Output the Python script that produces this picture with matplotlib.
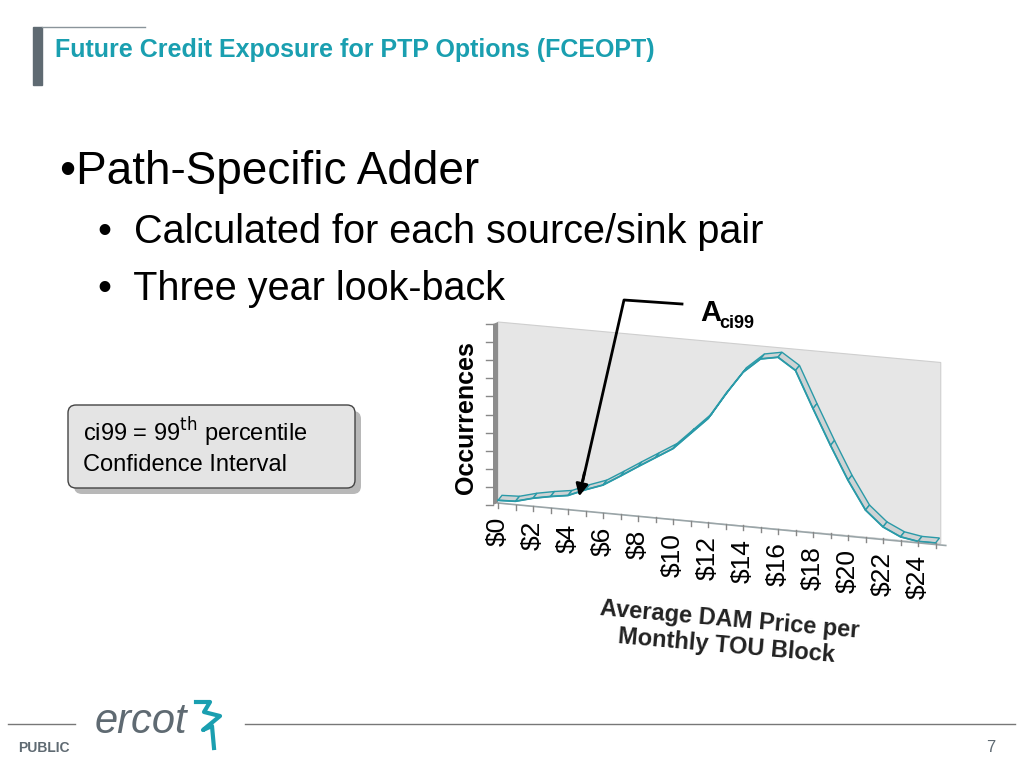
import numpy as np
import matplotlib.pyplot as plt
from matplotlib.patches import Polygon, FancyBboxPatch

# data: occurrences (relative units) per $1 price bin
prices = np.arange(0, 26)
occ = [8, 10, 24, 34, 42, 64, 83, 115, 148, 180, 212, 262, 312, 390, 461, 506,
       516, 481, 371, 265, 165, 80, 34, 9, 0, 0]
tick_labels = ["$%d" % p for p in range(0, 25, 2)]

TEAL = "#1a9fb0"
LINE = "#2a9aa8"

# chart geometry in figure pixels
X0, Y0 = 498, 503          # origin of back plane
DX, DY = 17.5, 1.6         # pixels per $ along the base
HSCALE = 181 / 545         # occurrences -> pixels
DEPTH = (4, -5)            # ribbon depth


def to_px(p, v):
    return X0 + p * DX, Y0 + p * DY - v * HSCALE


fig = plt.figure(figsize=(10.24, 7.68), dpi=100)
ax = fig.add_axes([0, 0, 1, 1])
ax.set_xlim(0, 1024)
ax.set_ylim(768, 0)
ax.axis("off")

# header
ax.add_patch(plt.Rectangle((33, 27), 9, 58, color="#5f6a72"))
ax.plot([42, 145], [27, 27], color="#8a949a", lw=1)
ax.text(55, 50, "Future Credit Exposure for PTP Options (FCEOPT)", color=TEAL,
        fontsize=18, fontweight="bold", family="Liberation Sans", va="center")

ax.text(60, 172, "\u2022Path-Specific Adder", fontsize=33, family="Liberation Sans", va="center")
ax.text(98, 232, "\u2022  Calculated for each source/sink pair", fontsize=28.5,
        family="Liberation Sans", va="center")
ax.text(98, 289, "\u2022  Three year look-back", fontsize=28.5, family="Liberation Sans", va="center")

# callout box
ax.add_patch(FancyBboxPatch((74, 411), 287, 83, boxstyle="round,pad=0,rounding_size=8",
                            fc="#b8b8b8", ec="none"))
ax.add_patch(FancyBboxPatch((68, 405), 287, 83, boxstyle="round,pad=0,rounding_size=8",
                            fc="#e4e4e4", ec="#444444", lw=1))
ax.text(83, 432, "ci99 = 99$^{\\rm th}$ percentile", fontsize=17, family="Liberation Sans", va="center")
ax.text(83, 465, "Confidence Interval", fontsize=17, family="Liberation Sans", va="center")

# back plane + left wall
pend = prices[-1] + 0.3
bl = to_px(0, 0); br = to_px(pend, 0)
tl = to_px(0, 545); tr = to_px(pend, 545)
ax.add_patch(Polygon([bl, br, tr, tl], closed=True, fc="#e6e6e6", ec="#cfcfcf", lw=0.8))
ax.add_patch(Polygon([(bl[0] - 5, bl[1] + 2), bl, tl, (tl[0] - 5, tl[1] + 2)],
                     closed=True, fc="#8c8c8c", ec="none"))
for k in range(11):
    y = bl[1] - k * 545 / 10 * HSCALE
    ax.plot([bl[0] - 12, bl[0] - 5], [y + 2, y + 2], color="#888888", lw=1)

# white area below curve
pts = [to_px(p, v) for p, v in zip(prices, occ)]
ax.add_patch(Polygon(pts + [to_px(prices[-1], 0), to_px(0, 0)], closed=True, fc="white", ec="none"))

# ribbon
for i in range(len(pts) - 1):
    a, b = pts[i], pts[i + 1]
    quad = [a, b, (b[0] + DEPTH[0], b[1] + DEPTH[1]), (a[0] + DEPTH[0], a[1] + DEPTH[1])]
    ax.add_patch(Polygon(quad, closed=True, fc="#cfd3d4", ec=LINE, lw=1))
ax.plot([p[0] for p in pts], [p[1] for p in pts], color=LINE, lw=1.3)

# base axis and ticks
ax.plot([bl[0], br[0] + 5], [bl[1], br[1] + 2], color="#9aa5a8", lw=1.2)
for p in range(0, 26):
    x, y = to_px(p, 0)
    ax.plot([x, x], [y, y + 5], color="#888888", lw=1)
for p, lab in zip(range(0, 25, 2), tick_labels):
    x, y = to_px(p, 0)
    ax.text(x, y + 14, lab, rotation=90, fontsize=19, family="Liberation Sans",
            ha="center", va="top")

ax.text(466, 418, "Occurrences", rotation=90, fontsize=18, fontweight="bold",
        family="Liberation Sans", ha="center", va="center")
ax.text(728, 633, "Average DAM Price per\nMonthly TOU Block", rotation=-5, fontsize=17,
        fontweight="bold", family="Liberation Sans", ha="center", va="center",
        color="#222222", linespacing=1.2)

# annotation
ax.text(700, 313, "A", fontsize=21, fontweight="bold", family="Liberation Sans", va="center")
ax.text(719, 323, "ci99", fontsize=13, fontweight="bold", family="Liberation Sans", va="center")
ax.plot([682, 624, 583], [304, 300, 480], color="black", lw=2)
ax.annotate("", xy=to_px(4.6, 34), xytext=(585, 470),
            arrowprops=dict(arrowstyle="-|>", color="black", lw=2, mutation_scale=18))

# footer
ax.plot([8, 75], [724, 724], color="#777777", lw=1)
ax.plot([245, 1015], [724, 724], color="#777777", lw=1)
ax.text(95, 722, "ercot", fontsize=30, style="italic", color="#5f6a72",
        family="Liberation Sans", va="center")
ax.plot([196, 210, 204, 220, 203, 212, 214], [702, 702, 712, 716, 730, 726, 748], color=TEAL, lw=3)
ax.text(18, 748, "PUBLIC", fontsize=10, fontweight="bold", color="#5f6a72",
        family="Liberation Sans", va="center")
ax.text(995, 748, "7", fontsize=12, color="#5f6a72", family="Liberation Sans",
        ha="right", va="center")

fig.savefig("out.png", dpi=100)
